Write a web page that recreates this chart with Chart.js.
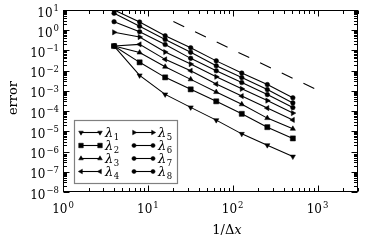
<!DOCTYPE html>
<html><head><meta charset="utf-8">
<script src="https://cdn.jsdelivr.net/npm/chart.js@4.4.0/dist/chart.umd.min.js"></script>
<style>html,body{margin:0;padding:0;background:#fff;} canvas{display:block}</style>
</head><body>
<canvas id="c" width="373" height="243"></canvas>
<script>
// ---- data ----
const gridSizes = [4, 8, 16, 32, 64, 128, 256, 512];
const lambda1 = [0.165, 0.00585, 0.000671, 0.000153, 0.0000358, 0.0000075, 0.00000207, 0.000000565];
const lambda2 = [0.165, 0.0258, 0.00466, 0.00119, 0.000305, 0.0000734, 0.0000161, 0.00000446];
const lambda3 = [0.165, 0.0787, 0.0156, 0.00371, 0.000873, 0.000217, 0.000045, 0.0000133];
const lambda4 = [0.165, 0.2, 0.0362, 0.0099, 0.00217, 0.000553, 0.000141, 0.0000366];
const lambda5 = [0.787, 0.46, 0.0834, 0.0212, 0.00499, 0.00126, 0.000331, 0.0000796];
const lambda6 = [2.64, 0.843, 0.196, 0.0406, 0.0099, 0.00258, 0.000656, 0.000149];
const lambda7 = [6.9, 1.56, 0.347, 0.0805, 0.0175, 0.00455, 0.00116, 0.000255];
const lambda8 = [10, 2.55, 0.535, 0.136, 0.0305, 0.0076, 0.00205, 0.000455];
const refLineX = [20, 1000];
const refLineY = [2.7, 0.0011];
const seriesLabels = ['1', '2', '3', '4', '5', '6', '7', '8'];
const xTickExponents = [0, 1, 2, 3];
const yTickExponents = [1, 0, -1, -2, -3, -4, -5, -6, -7, -8];
const xRange = [1, 3000];
const yRange = [1e-8, 10];

const allSeries = [lambda1, lambda2, lambda3, lambda4, lambda5, lambda6, lambda7, lambda8];
const markerStyles = [
  {pointStyle: 'triangle', rotation: 180, radius: 3},
  {pointStyle: 'rect', rotation: 0, radius: 3.6},
  {pointStyle: 'triangle', rotation: 0, radius: 3},
  {pointStyle: 'triangle', rotation: -90, radius: 3},
  {pointStyle: 'triangle', rotation: 90, radius: 3},
  {pointStyle: 'circle', rotation: 0, radius: 2.3},
  {pointStyle: 'circle', rotation: 0, radius: 2.3},
  {pointStyle: 'circle', rotation: 0, radius: 2.3}
];

const datasets = allSeries.map((s, i) => ({
  label: 'λ' + seriesLabels[i],
  data: gridSizes.map((g, j) => ({x: g, y: s[j]})),
  borderColor: '#000', backgroundColor: '#000', borderWidth: 1.1,
  pointStyle: markerStyles[i].pointStyle,
  pointRotation: markerStyles[i].rotation,
  pointRadius: markerStyles[i].radius,
  pointBorderWidth: 0.5,
  pointBorderColor: '#000', pointBackgroundColor: '#000',
  order: i === 1 ? -1 : 0,
  tension: 0
}));
datasets.push({
  label: 'ref',
  data: refLineX.map((v, i) => ({x: v, y: refLineY[i]})),
  borderColor: '#000', borderWidth: 1.1, borderDash: [12, 12],
  pointRadius: 0, tension: 0
});

const SERIF = '"DejaVu Serif", "Liberation Serif", serif';

function drawPow(ctx, exp, xPos, yBase, align) {
  const base = '10';
  const e = exp < 0 ? '\u2212' + (-exp) : String(exp);
  ctx.font = '12px ' + SERIF;
  const wb = ctx.measureText(base).width;
  ctx.font = '8.5px ' + SERIF;
  const we = ctx.measureText(e).width;
  const total = wb + 1 + we;
  let left = align === 'center' ? xPos - total / 2 : xPos - total;
  ctx.textAlign = 'left';
  ctx.textBaseline = 'alphabetic';
  ctx.font = '12px ' + SERIF;
  ctx.fillText(base, left, yBase);
  ctx.font = '8.5px ' + SERIF;
  ctx.fillText(e, left + wb + 1, yBase - 5.5);
}

const decor = {
  id: 'decor',
  afterDraw(chart) {
    const {ctx, chartArea: a, scales: {x, y}} = chart;
    ctx.save();
    ctx.fillStyle = '#000';
    ctx.strokeStyle = '#000';
    ctx.lineWidth = 1;
    const L = Math.round(a.left) + 0.5, R = Math.round(a.right) - 0.5;
    const T = Math.round(a.top) + 0.5, B = Math.round(a.bottom) - 0.5;
    ctx.strokeRect(L, T, R - L, B - T);
    ctx.beginPath();
    // x ticks
    for (let d = 0; d <= 3; d++) {
      for (let k = 1; k <= 9; k++) {
        const v = k * Math.pow(10, d);
        if (v > xRange[1] + 1e-9) break;
        const px = Math.round(x.getPixelForValue(v)) + 0.5;
        const len = k === 1 ? 6 : 3.5;
        ctx.moveTo(px, B); ctx.lineTo(px, B - len);
        ctx.moveTo(px, T); ctx.lineTo(px, T + len);
      }
    }
    // y ticks
    for (let d = -8; d <= 1; d++) {
      for (let k = 1; k <= 9; k++) {
        const v = k * Math.pow(10, d);
        if (v > yRange[1] * 1.0001) break;
        const py = Math.round(y.getPixelForValue(v)) + 0.5;
        const len = k === 1 ? 6 : 3.5;
        ctx.moveTo(L, py); ctx.lineTo(L + len, py);
        ctx.moveTo(R, py); ctx.lineTo(R - len, py);
      }
    }
    ctx.stroke();
    // tick labels
    xTickExponents.forEach(e => {
      drawPow(ctx, e, x.getPixelForValue(Math.pow(10, e)), 213, 'center');
    });
    yTickExponents.forEach(e => {
      drawPow(ctx, e, 59, y.getPixelForValue(Math.pow(10, e)) + 6.5, 'right');
    });
    // axis titles
    ctx.font = '13px ' + SERIF;
    ctx.textAlign = 'center';
    ctx.textBaseline = 'middle';
    ctx.save();
    ctx.translate(14, 98);
    ctx.rotate(-Math.PI / 2);
    ctx.fillText('error', 0, 0);
    ctx.restore();
    ctx.textAlign = 'left';
    ctx.textBaseline = 'alphabetic';
    ctx.font = '13px ' + SERIF;
    const t1 = '1/Δ';
    const w1 = ctx.measureText(t1).width;
    ctx.font = 'italic 13px ' + SERIF;
    const w2 = ctx.measureText('x').width;
    const startX = 227 - (w1 + w2) / 2;
    ctx.font = '13px ' + SERIF;
    ctx.fillText(t1, startX, 234);
    ctx.font = 'italic 13px ' + SERIF;
    ctx.fillText('x', startX + w1, 234);
    // legend
    const lx0 = 74.5, ly0 = 120.5, lx1 = 177.5, ly1 = 183.5;
    ctx.fillStyle = '#fff';
    ctx.fillRect(lx0, ly0, lx1 - lx0, ly1 - ly0);
    ctx.strokeStyle = '#808080';
    ctx.lineWidth = 1.2;
    ctx.strokeRect(lx0, ly0, lx1 - lx0, ly1 - ly0);
    const rowsY = [132.5, 145.5, 158.5, 171.5];
    const colsX = [81, 134];
    for (let i = 0; i < 8; i++) {
      const col = i < 4 ? 0 : 1, row = i % 4;
      const sx = colsX[col], sy = rowsY[row];
      ctx.strokeStyle = '#000';
      ctx.fillStyle = '#000';
      ctx.lineWidth = 1.1;
      ctx.beginPath(); ctx.moveTo(sx, sy); ctx.lineTo(sx + 19, sy); ctx.stroke();
      const m = markerStyles[i];
      ctx.lineWidth = 0.5;
      Chart.helpers.drawPoint(ctx, {pointStyle: m.pointStyle, rotation: m.rotation, radius: m.radius * 0.9, borderWidth: 0.5}, sx, sy);
      Chart.helpers.drawPoint(ctx, {pointStyle: m.pointStyle, rotation: m.rotation, radius: m.radius * 0.9, borderWidth: 0.5}, sx + 19, sy);
      ctx.fillStyle = '#000';
      ctx.textAlign = 'left';
      ctx.textBaseline = 'alphabetic';
      ctx.font = 'italic 13px ' + SERIF;
      ctx.fillText('λ', sx + 24, sy + 4.5);
      const wl = ctx.measureText('λ').width;
      ctx.font = '8.5px ' + SERIF;
      ctx.fillText(seriesLabels[i], sx + 24 + wl + 0.5, sy + 7);
    }
    ctx.restore();
  }
};

new Chart(document.getElementById('c'), {
  type: 'line',
  data: {datasets},
  options: {
    responsive: false,
    animation: false,
    devicePixelRatio: 1,
    layout: {padding: {left: 63, right: 15, top: 10, bottom: 51}},
    plugins: {legend: {display: false}, tooltip: {enabled: false}},
    scales: {
      x: {type: 'logarithmic', min: xRange[0], max: xRange[1], display: false},
      y: {type: 'logarithmic', min: yRange[0], max: yRange[1], display: false}
    }
  },
  plugins: [decor]
});
</script>
</body></html>
